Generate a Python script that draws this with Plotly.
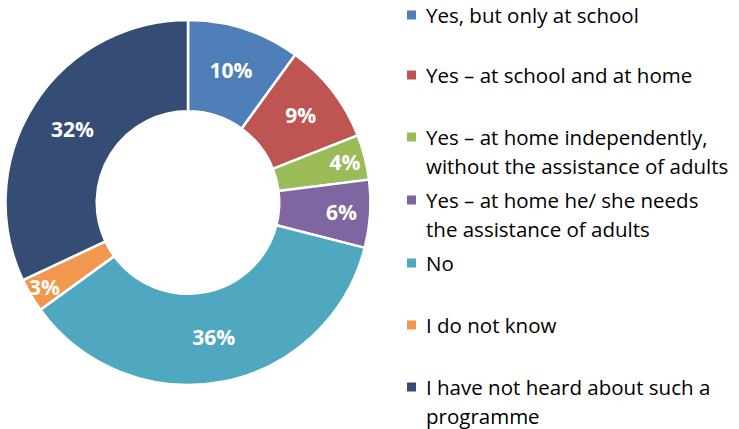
import plotly.graph_objects as go

categories = [
    "Yes, but only at school",
    "Yes – at school and at home",
    "Yes – at home independently,<br>without the assistance of adults",
    "Yes – at home he/ she needs<br>the assistance of adults",
    "No",
    "I do not know",
    "I have not heard about such a<br>programme",
]
values = [10, 9, 4, 6, 36, 3, 32]
colors = ["#4F7FB8", "#BE5553", "#9BBB59", "#8066A0", "#4FA8C0", "#F1984E", "#354D74"]

W, H = 739, 429
fig = go.Figure()
fig.add_trace(go.Pie(
    labels=categories,
    values=values,
    hole=0.5,
    sort=False,
    direction="clockwise",
    rotation=0,
    marker=dict(colors=colors, line=dict(color="white", width=2.5)),
    texttemplate="%{value}%",
    textposition="inside",
    insidetextorientation="horizontal",
    textfont=dict(family="Open Sans", size=21, color="white", weight="bold"),
    showlegend=False,
    domain=dict(x=[5 / W, 371 / W], y=[(H - 385) / H, (H - 20) / H]),
))

# Legend drawn as text + square swatches
first_line_y = [15, 75, 137, 200, 263, 325, 387]
line_gap = 28.5
for cat, col, y0 in zip(categories, colors, first_line_y):
    fig.add_shape(type="rect", xref="paper", yref="paper",
                  x0=407 / W, x1=416 / W,
                  y0=(H - y0 - 4.5) / H, y1=(H - y0 + 4.5) / H,
                  fillcolor=col, line=dict(width=0))
    for i, line in enumerate(cat.split("<br>")):
        yy = y0 + i * line_gap
        fig.add_annotation(x=424 / W, y=(H - yy) / H, xref="paper", yref="paper",
                           text=line, showarrow=False, xanchor="left", yanchor="middle",
                           font=dict(family="Open Sans", size=20.5, color="#000000"))

fig.update_layout(
    width=W, height=H,
    margin=dict(l=0, r=0, t=0, b=0),
    paper_bgcolor="white", plot_bgcolor="white",
    uniformtext=dict(minsize=21, mode="show"),
)
fig.write_html("out.html")
